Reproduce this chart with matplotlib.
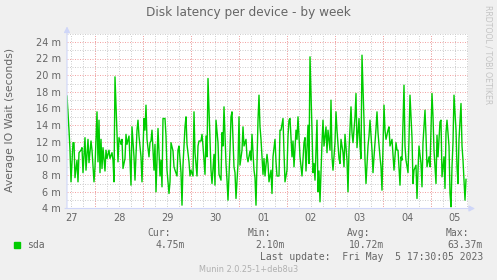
import numpy as np
import pandas as pd
import matplotlib
matplotlib.use('Agg')
import matplotlib.pyplot as plt
import matplotlib.dates as mdates

# Munin weekly graph: 30 minute samples, first sample Apr 27 10:00
START = pd.Timestamp('2023-04-27 10:00')
STEP_MIN = 30
N_SLOTS = 401

# sample index (30 min steps) and average IO wait in milliseconds
steps = [0, 2, 3, 4, 6, 7, 8, 10, 11, 12, 14, 15, 16, 18, 19, 21, 22, 24, 25, 26,
         27, 28, 30, 31, 32, 33, 34, 35, 36, 38, 39, 40, 42, 43, 45, 46, 47, 48, 50, 51,
         52, 54, 55, 56, 58, 59, 60, 62, 64, 65, 67, 68, 70, 71, 72, 74, 75, 77, 78, 79,
         80, 82, 83, 84, 85, 87, 88, 89, 90, 91, 93, 94, 95, 96, 98, 99, 100, 102, 103, 104,
         106, 107, 108, 110, 111, 112, 114, 115, 116, 118, 119, 120, 122, 123, 124, 126, 127, 128, 130, 131,
         132, 134, 135, 136, 138, 139, 140, 141, 143, 144, 145, 147, 148, 149, 151, 152, 154, 155, 156, 157,
         159, 160, 161, 163, 164, 165, 167, 168, 169, 171, 172, 173, 175, 176, 177, 179, 180, 181, 183, 184,
         185, 187, 188, 189, 191, 192, 193, 194, 196, 197, 198, 200, 201, 202, 204, 205, 206, 208, 209, 210,
         212, 213, 214, 216, 217, 218, 220, 221, 222, 223, 225, 226, 227, 229, 230, 231, 233, 234, 235, 237,
         238, 239, 241, 242, 243, 245, 246, 247, 248, 250, 251, 252, 253, 255, 256, 257, 259, 260, 261, 263,
         264, 265, 266, 268, 269, 270, 272, 273, 274, 276, 277, 278, 280, 281, 282, 284, 285, 286, 288, 289,
         290, 292, 293, 294, 295, 297, 298, 299, 301, 302, 303, 305, 306, 307, 309, 310, 311, 313, 314, 315,
         317, 318, 319, 321, 322, 323, 325, 326, 327, 329, 330, 331, 333, 334, 335, 337, 338, 339, 341, 342,
         343, 345, 346, 347, 349, 350, 351, 352, 354, 355, 356, 358, 359, 360, 362, 363, 365, 366, 367, 369,
         370, 371, 373, 374, 375, 377, 378, 379, 380, 382, 383, 384, 385, 386, 387, 389, 390, 391, 392, 394,
         395, 396, 398, 399]
wait_ms = [17.5, 13.4, 11.0, 7.2, 11.9, 11.9, 7.7, 9.8, 7.2, 10.7, 11.0, 11.3, 8.3, 12.5, 8.6, 12.3, 9.5, 12.1, 11.0, 9.0,
           7.2, 9.0, 15.6, 9.6, 14.6, 8.3, 12.3, 8.8, 11.3, 8.5, 11.0, 10.0, 11.0, 10.0, 10.7, 9.8, 7.2, 19.8, 13.1, 9.6,
           12.5, 11.7, 12.3, 8.8, 10.0, 12.9, 11.7, 12.7, 6.8, 13.8, 10.2, 7.4, 13.4, 14.6, 12.7, 10.2, 7.2, 14.8, 13.4, 16.4,
           12.3, 10.2, 11.9, 12.1, 13.4, 8.6, 11.7, 6.0, 10.0, 13.6, 7.9, 9.8, 6.6, 14.8, 14.8, 12.7, 8.6, 5.8, 7.2, 11.9,
           10.9, 9.0, 8.6, 7.9, 11.0, 11.5, 8.3, 4.4, 9.2, 13.8, 15.0, 11.7, 9.6, 7.9, 8.6, 7.9, 15.6, 10.7, 7.9, 11.5,
           12.1, 12.1, 12.9, 11.5, 8.1, 12.7, 10.2, 19.6, 12.3, 8.6, 7.0, 10.5, 6.8, 14.6, 11.9, 8.1, 7.4, 13.1, 11.5, 16.2,
           9.4, 7.4, 5.0, 11.0, 15.0, 15.6, 9.0, 8.3, 5.2, 9.4, 15.0, 9.2, 11.0, 13.8, 11.5, 12.3, 10.2, 9.6, 10.9, 9.8,
           12.9, 8.6, 7.7, 4.4, 14.6, 17.6, 13.8, 12.3, 8.1, 10.0, 7.9, 10.5, 9.4, 7.2, 8.6, 5.8, 10.2, 12.3, 9.6, 7.9,
           7.9, 13.4, 13.4, 14.8, 10.7, 7.2, 8.6, 12.7, 14.6, 14.8, 10.2, 12.1, 9.0, 13.4, 12.3, 15.0, 10.2, 9.0, 7.9, 11.9,
           12.5, 8.5, 14.0, 9.4, 22.2, 13.4, 8.3, 9.4, 7.4, 14.6, 6.0, 8.5, 4.8, 11.9, 14.6, 11.5, 13.8, 10.7, 13.4, 11.0,
           17.0, 10.2, 8.6, 11.9, 15.6, 13.4, 10.0, 9.4, 12.3, 10.7, 9.0, 12.9, 9.8, 6.0, 11.0, 16.2, 13.1, 11.9, 15.0, 17.8,
           11.3, 14.8, 11.5, 10.0, 22.4, 14.6, 9.8, 7.0, 11.5, 12.7, 14.6, 11.0, 8.3, 10.2, 13.6, 15.6, 13.1, 10.2, 9.0, 6.2,
           16.4, 13.4, 12.3, 13.4, 13.8, 11.5, 12.3, 10.5, 8.6, 11.9, 11.0, 11.0, 6.8, 10.2, 9.8, 18.8, 11.5, 9.8, 8.3, 12.3,
           17.6, 12.5, 7.0, 8.6, 9.2, 5.2, 8.6, 11.5, 9.4, 6.6, 11.9, 15.8, 12.7, 9.0, 10.2, 9.0, 17.8, 15.0, 11.0, 7.0,
           12.8, 10.2, 14.4, 14.6, 7.8, 10.2, 6.4, 13.1, 14.6, 11.5, 5.8, 4.2, 9.0, 11.9, 17.6, 13.4, 9.0, 7.0, 12.3, 16.6,
           11.5, 9.8, 5.0, 7.5]

y_ticks = list(range(4, 25, 2))
stat_names = ['Cur:', 'Min:', 'Avg:', 'Max:']
stat_values = ['4.75m', '2.10m', '10.72m', '63.37m']
series_name = 'sda'
last_update = 'Last update:  Fri May  5 17:30:05 2023'

W, H = 497, 280
BG = '#F0F0F0'
FONT_C = '#666666'
AXIS_C = '#CFD6F8'
LINE_C = '#00CC00'
GRID_C = '#CFCFCF'
MGRID_C = '#F2A4A4'
DOTS = (0, (1, 1.5))


def fpos(x, y):
    # pixel position -> figure fraction
    return x / W, 1 - y / H


plt.rcParams['font.family'] = ['DejaVu Sans']
fig = plt.figure(figsize=(W / 100, H / 100), dpi=100, facecolor=BG)
ax = fig.add_axes([67 / W, 1 - 208.5 / H, 401 / W, 175 / H], facecolor='white')

times = (START + pd.to_timedelta(np.array(steps) * STEP_MIN, unit='m')).to_numpy()
t_end = START + pd.Timedelta(minutes=STEP_MIN * N_SLOTS)

ax.set_xlim(START.to_numpy(), t_end.to_numpy())
ax.set_ylim(4, 25)

# grid: gray every 1 m / 6 h, red every 2 m / midnight
ax.set_yticks(y_ticks)
ax.set_yticks(np.arange(4, 26, 1), minor=True)
ax.set_yticklabels([f'{v} m' for v in y_ticks])
ax.yaxis.grid(True, which='minor', color=GRID_C, lw=0.72, ls=DOTS)
ax.yaxis.grid(True, which='major', color=MGRID_C, lw=0.72, ls=DOTS)

ax.xaxis.remove_overlapping_locs = False
ax.xaxis.set_major_locator(mdates.HourLocator(byhour=[12]))
ax.xaxis.set_major_formatter(mdates.DateFormatter('%d'))
ax.xaxis.set_minor_locator(mdates.HourLocator(byhour=[0, 6, 12, 18]))
ax.xaxis.grid(True, which='minor', color=GRID_C, lw=0.72, ls=DOTS)
ax.xaxis.grid(False, which='major')
for m in pd.date_range(START.normalize() + pd.Timedelta(days=1), t_end, freq='D'):
    ax.axvline(m.to_numpy(), color=MGRID_C, lw=0.72, ls=DOTS, zorder=1)
ax.set_axisbelow(True)

ax.tick_params(which='both', length=0, labelsize=7, colors=FONT_C)
ax.tick_params(axis='y', pad=4.5)
ax.tick_params(axis='x', pad=3)
for s in ax.spines.values():
    s.set_visible(False)

ax.plot(times, wait_ms, color=LINE_C, lw=1.0, zorder=3)

# axis lines with arrows
arrow = dict(arrowstyle='-|>,head_length=0.35,head_width=0.18', color=AXIS_C, lw=0.8, shrinkA=0, shrinkB=0)
ax.annotate('', xy=(0, 1 + 7 / 175), xytext=(0, 0), xycoords='axes fraction',
            textcoords='axes fraction', arrowprops=arrow, annotation_clip=False)
ax.annotate('', xy=(1 + 7 / 401, 0), xytext=(-0.005, 0), xycoords='axes fraction',
            textcoords='axes fraction', arrowprops=arrow, annotation_clip=False)

# titles
fig.text(*fpos(248, 12.5), 'Disk latency per device - by week', ha='center', va='center',
         fontsize=8.7, color=FONT_C)
fig.text(*fpos(10, 120), 'Average IO Wait (seconds)', ha='center', va='center',
         rotation=90, fontsize=7.8, color=FONT_C)
fig.text(*fpos(488, 5), 'RRDTOOL / TOBI OETIKER', ha='center', va='top',
         rotation=270, fontsize=5.6, color='#C4C4C4')

# legend
mono = dict(family='DejaVu Sans Mono', fontsize=7, color=FONT_C, va='center')
fig.patches.append(plt.Rectangle(fpos(14, 248), 6 / W, 6 / H, transform=fig.transFigure,
                                 color=LINE_C, figure=fig))
fig.text(*fpos(27, 245), series_name, ha='left', **mono)
name_right = [171, 271, 370, 469]
value_right = [185, 285, 384, 483]
for nm, val, xn, xv in zip(stat_names, stat_values, name_right, value_right):
    fig.text(*fpos(xn, 233.5), nm, ha='right', **mono)
    fig.text(*fpos(xv, 245), val, ha='right', **mono)
fig.text(*fpos(483, 257.5), last_update, ha='right', **mono)
fig.text(*fpos(248.5, 269.5), 'Munin 2.0.25-1+deb8u3', ha='center', va='center',
         fontsize=5.9, color='#B0B0B0')

fig.savefig('out.png', dpi=100, facecolor=BG)
